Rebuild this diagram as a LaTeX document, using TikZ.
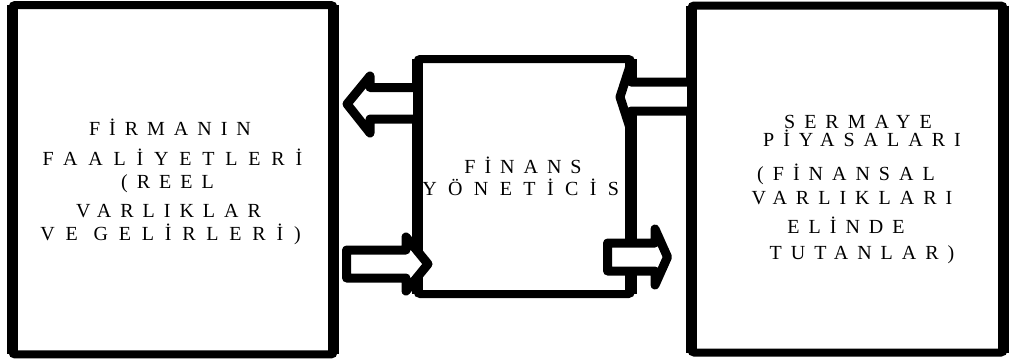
\documentclass[tikz,border=0pt]{standalone}
\usepackage{fontspec}
\setmainfont{Liberation Serif}
\newfontfamily\spc[LetterSpace=45]{Liberation Serif}
\newfontfamily\spcw[LetterSpace=54]{Liberation Serif}
\newfontfamily\spcx[LetterSpace=57]{Liberation Serif}
\begin{document}
\begin{tikzpicture}[x=0.75pt,y=-0.75pt,
  box/.style={draw, line width=6pt, rounded corners=2pt, outer sep=0pt, inner sep=0pt},
  side/.style={line width=8.6pt},
  barrow/.style={draw, fill=white, line width=6.75pt, line join=round},
  txt/.style={font=\spc\fontsize{15}{18}\selectfont, inner sep=0pt, anchor=base},
  txtw/.style={txt, font=\spcw\fontsize{15}{18}\selectfont},
  txtx/.style={txt, font=\spcx\fontsize{15}{18}\selectfont}]
\useasboundingbox (0,0) rectangle (1009,362);
% texts (drawn first, boxes overlay them)
\node[txt] (l1) at (170,135) {FİRMANIN};
\node[txtw] (l2) at (172.5,165) {FAALİYETLERİ};
\node[txt] (l3) at (167.5,188) {(REEL};
\node[txt] (l4) at (168.5,217) {VARLIKLAR};
\node[txtw] (l5) at (170.5,240) {VE GELİRLERİ)};
\node[txt] (c1) at (523,173) {FİNANS};
\node[txtx, anchor=base west] (c2) at (422,195) {YÖNETİCİSİ};
\node[txt] (r1) at (858,128) {SERMAYE};
\node[txt] (r2) at (862,146) {PİYASALARI};
\node[txt] (r3) at (846,180) {(FİNANSAL};
\node[txt] (r4) at (852,204) {VARLIKLARI};
\node[txt] (r5) at (846,233) {ELİNDE};
\node[txt] (r6) at (862,259) {TUTANLAR)};
% boxes
\node[box, minimum width=240.75pt, minimum height=262.1pt] (left) at (173,179.75) {};
\node[box, minimum width=234pt, minimum height=260.25pt] (right) at (847.5,179) {};
\node[box, minimum width=160.1pt, minimum height=176.25pt] (mid) at (524.25,176.5) {};
\foreach \b in {left,right,mid}{
  \draw[side] (\b.north west) -- (\b.south west);
  \draw[side] (\b.north east) -- (\b.south east);
}
% block arrows
\draw[barrow] (mid.west |- 0,87.5) -- (370,87.5) -- (370,76) -- (347,104) -- (370,133) -- (370,119) -- (mid.west |- 0,119) -- cycle;
\draw[barrow] (346.5,250) -- (406,250) -- (406,237) -- (428,264) -- (406,291) -- (406,278) -- (346.5,278) -- cycle;
\draw[barrow] (right.west |- 0,82) -- (631,82) -- (631,63) -- (620,97) -- (631,131) -- (631,111) -- (right.west |- 0,111) -- cycle;
\draw[barrow] (607.5,243) -- (655,243) -- (655,229) -- (667.5,257) -- (655,285) -- (655,271) -- (607.5,271) -- cycle;
\end{tikzpicture}
\end{document}
